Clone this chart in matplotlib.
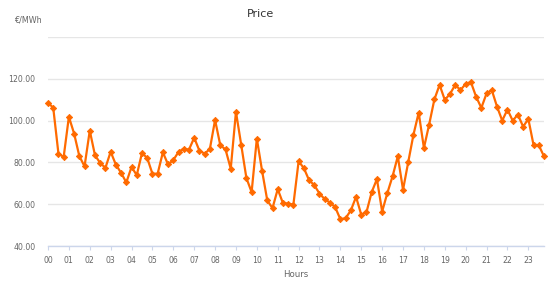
import numpy as np
import matplotlib
matplotlib.use("Agg")
import matplotlib.pyplot as plt

# quarter-hour prices, 96 values (00:00 .. 23:45)
prices = [
    108.5, 106.2, 84.2, 82.6, 101.8, 93.8, 83.0, 78.1,
    95.2, 83.4, 79.7, 77.4, 85.1, 78.9, 75.0, 70.4,
    77.8, 73.9, 84.5, 82.1, 74.6, 74.6, 84.8, 79.0,
    81.1, 85.0, 86.6, 86.1, 91.8, 85.6, 84.2, 86.4,
    100.3, 88.2, 86.2, 77.0, 104.2, 88.5, 72.5, 65.8,
    91.4, 76.0, 61.8, 58.1, 67.2, 60.5, 60.3, 59.8,
    80.5, 77.3, 71.5, 69.1, 65.1, 62.4, 60.8, 58.6,
    52.8, 53.3, 57.0, 63.5, 55.0, 56.2, 65.8, 72.0,
    56.5, 65.4, 73.4, 82.9, 66.9, 80.2, 93.3, 103.8,
    86.9, 98.1, 110.1, 117.1, 109.9, 112.8, 117.1, 114.6,
    117.6, 118.4, 111.4, 106.1, 113.0, 114.6, 106.7, 100.0,
    105.3, 100.0, 102.9, 97.1, 100.8, 88.3, 88.2, 82.9,
]
hours = [f"{h:02d}" for h in range(24)]
y_ticks = [40, 60, 80, 100, 120]

x = np.arange(len(prices)) / 4.0

fig = plt.figure(figsize=(5.59, 2.82), dpi=100)
ax = fig.add_axes([48 / 559, 1 - 246 / 282, (544 - 48) / 559, (246 - 37) / 282])

ax.plot(x, prices, color="#ff6a00", linewidth=1.6, marker="D",
        markersize=3.2, markeredgewidth=0.6, markeredgecolor="#ff6a00",
        zorder=3, clip_on=False)

ax.set_xlim(0, 23.75)
ax.set_ylim(40, 140)

ax.set_yticks(y_ticks + [140])
ax.set_yticklabels([f"{v:.2f}" for v in y_ticks] + [""])
ax.set_xticks(range(24))
ax.set_xticklabels(hours)

ax.grid(axis="y", color="#e6e6e6", linewidth=1)
ax.set_axisbelow(True)
for side in ["top", "right", "left"]:
    ax.spines[side].set_visible(False)
ax.spines["bottom"].set_color("#ccd6eb")
ax.spines["bottom"].set_linewidth(1)

ax.tick_params(axis="y", length=0, pad=9, labelsize=5.6, labelcolor="#666666")
ax.tick_params(axis="x", length=3, width=0.8, color="#ccd6eb", pad=4,
               labelsize=5.6, labelcolor="#666666")

ax.set_xlabel("Hours", fontsize=6.2, color="#666666", labelpad=4)

fig.text(260 / 559, 1 - 14 / 282, "Price", ha="center", va="center",
         fontsize=8, color="#333333")
fig.text(14 / 559, 1 - 20 / 282, "€/MWh", ha="left", va="center",
         fontsize=5.8, color="#666666")

plt.savefig("out.png", dpi=100)
